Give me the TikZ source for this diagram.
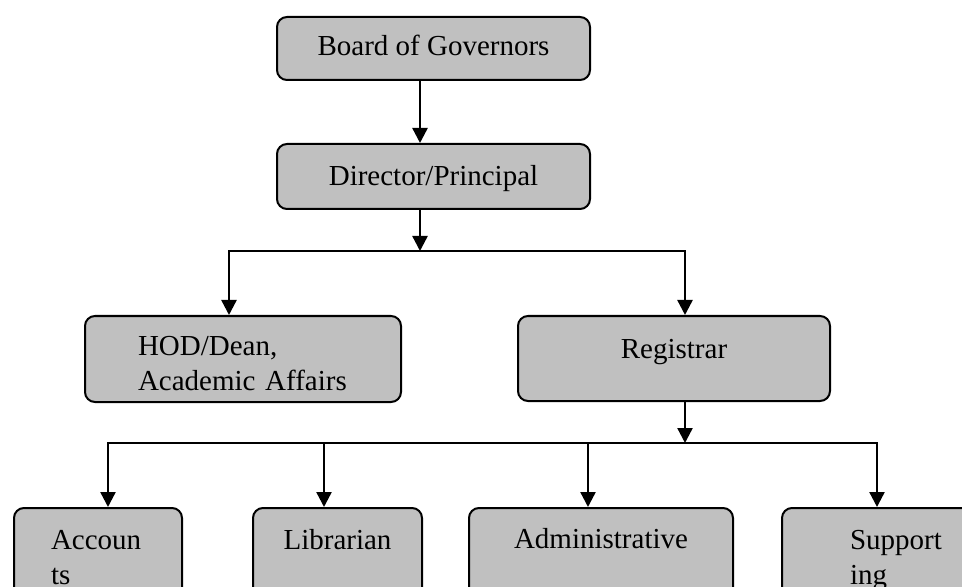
\documentclass[tikz,border=0pt]{standalone}
\usepackage{fontspec}
\setmainfont{Liberation Serif}
\usetikzlibrary{arrows.meta}
\definecolor{boxgray}{RGB}{192,192,192}

\begin{document}
\begin{tikzpicture}[x=0.5pt,y=-0.5pt,>={Triangle[width=7.5pt,length=7.5pt]},
    box/.style={draw,rectangle,rounded corners=5pt,fill=boxgray,line width=1pt,
      anchor=north west,inner sep=0pt,font=\fontsize{14.5}{17.5}\selectfont},
    twoline/.style={text width=#1,align=left},
    link/.style={line width=1.2pt}]
  \useasboundingbox (0,0) rectangle (962,587);
  \fill[white] (0,0) rectangle (962,587);
  \clip (0,0) rectangle (962,587);
  % top of the chart
  \node[box,minimum width=156.5pt,text height=19.5pt,text depth=12pt] (board) at (276,16) {Board of Governors};
  \node[box,minimum width=156.5pt,text height=21pt,text depth=11.5pt] (director) at (276,143) {Director/Principal};
  % second row
  \node[box,twoline=105pt,minimum width=158pt,text height=19.5pt,text depth=23.5pt] (hod) at (84,315) {HOD/Dean,\\Academic Affairs};
  \node[box,minimum width=156pt,text height=21pt,text depth=21.5pt] (registrar) at (517,315) {Registrar};
  % bottom row, cut off by the page edge
  \node[box,twoline=47pt,minimum width=84pt,text height=20.5pt,text depth=40pt] (accounts) at (13,507) {Accoun\\ts};
  \node[box,minimum width=84.5pt,text height=20.5pt,text depth=40pt] (librarian) at (252,507) {Librarian};
  \node[box,minimum width=132pt,text height=20pt,text depth=40pt] (administrative) at (468,507) {Administrative};
  \node[box,twoline=47pt,minimum width=115pt,text height=20.5pt,text depth=40pt] (supporting) at (781,507) {Support\\ing};
  % bus points
  \coordinate (topbus) at (420,251);
  \coordinate (hodin) at (229,251);
  \coordinate (regin) at (685,251);
  \coordinate (lowbus) at (685,443);
  \coordinate (accin) at (108,443);
  \coordinate (libin) at (324,443);
  \coordinate (adminin) at (588,443);
  \coordinate (supin) at (877,443);
  \draw[link,->] (board.south -| topbus) -- (director.north -| topbus);
  \draw[link,->] (director.south -| topbus) -- (topbus);
  \draw[link,<->] (hod.north -| hodin) -- (hodin) -- (regin) -- (registrar.north -| regin);
  \draw[link,->] (registrar.south -| lowbus) -- (lowbus);
  \draw[link,<->] (accounts.north -| accin) -- (accin) -- (supin) -- (supporting.north -| supin);
  \draw[link,->] (libin) -- (librarian.north -| libin);
  \draw[link,->] (adminin) -- (administrative.north -| adminin);
\end{tikzpicture}
\end{document}
